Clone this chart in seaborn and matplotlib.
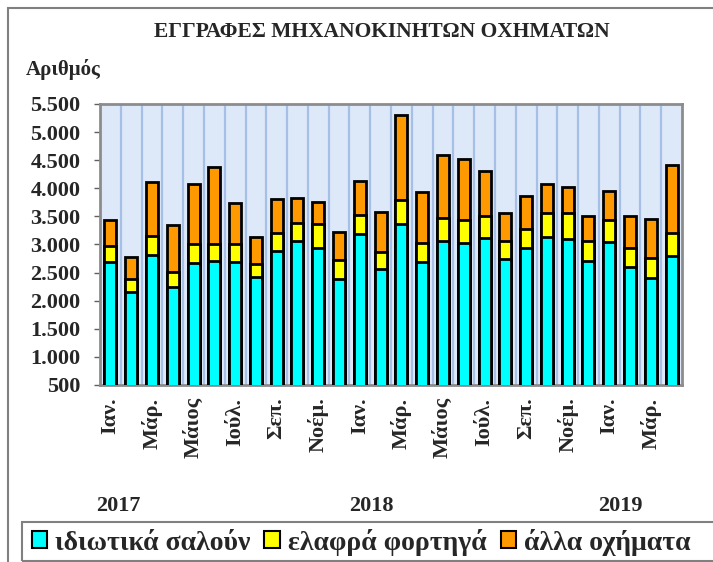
import numpy as np
import pandas as pd
import seaborn as sns
import matplotlib
matplotlib.use('Agg')
import matplotlib.pyplot as plt
from matplotlib.patches import Rectangle, Patch
from matplotlib.ticker import FuncFormatter

# Δεδομένα (εκτίμηση από το γράφημα)
months = ['Ιαν.', 'Φεβ.', 'Μάρ.', 'Απρ.', 'Μάιος', 'Ιούν.',
          'Ιούλ.', 'Αύγ.', 'Σεπ.', 'Οκτ.', 'Νοέμ.', 'Δεκ.']
periods = [f'{m} {y}' for y in (2017, 2018) for m in months] + [f'{m} 2019' for m in months[:4]]
tick_labels = (months * 3)[:28]
saloons = [2690, 2155, 2810, 2240, 2665, 2705, 2695, 2415, 2885, 3060, 2945, 2385, 3180, 2560,
           3360, 2690, 3070, 3035, 3120, 2750, 2945, 3140, 3105, 2705, 3040, 2605, 2405, 2800]
trucks = [280, 230, 350, 275, 345, 310, 315, 240, 325, 315, 415, 340, 345, 315,
          435, 340, 410, 395, 385, 320, 330, 415, 460, 365, 395, 340, 360, 400]
others = [460, 385, 960, 840, 1075, 1370, 725, 485, 595, 455, 395, 490, 605, 700,
          1515, 905, 1110, 1095, 805, 495, 595, 525, 465, 440, 515, 570, 695, 1220]
years = ['2017', '2018', '2019']
series = ['ιδιωτικά σαλούν', 'ελαφρά φορτηγά', 'άλλα οχήματα']
colors = ['#00ffff', '#ffff00', '#ff9900']

df = pd.DataFrame({'period': periods, 'sal': saloons, 'tr': trucks, 'oth': others})
df['lvl1'] = df['sal']
df['lvl2'] = df['sal'] + df['tr']
df['lvl3'] = df['lvl2'] + df['oth']

sns.set_style('white')
plt.rcParams['font.family'] = ['Liberation Serif', 'DejaVu Serif']
plt.rcParams['font.weight'] = 'bold'

fig = plt.figure(figsize=(7.13, 5.62), dpi=100)
ax = fig.add_axes([100 / 713, 1 - 385 / 562, 582 / 713, 281 / 562])
ax.set_facecolor('#dde9f8')

# στοίβαξη: από το ψηλότερο στο χαμηλότερο
for col, c in zip(['lvl3', 'lvl2', 'lvl1'], colors[::-1]):
    sns.barplot(data=df, x='period', y=col, color=c, width=0.58,
                edgecolor='black', linewidth=2, saturation=1, ax=ax, zorder=3)

ax.set_ylim(500, 5500)
ax.set_xlim(-0.5, 27.5)
ax.set_yticks(np.arange(500, 5501, 500))
ax.yaxis.set_major_formatter(FuncFormatter(lambda v, p: f'{int(v):,}'.replace(',', '.')))
ax.tick_params(axis='y', labelsize=16, length=4, width=1, color='#606060', left=True, pad=10)
for t in ax.get_yticklabels():
    t.set_fontweight('bold')
ax.set_xticks(range(0, 28, 2))
ax.set_xticklabels(tick_labels[::2], rotation=90, fontsize=16, va='top', fontweight='bold')
ax.tick_params(axis='x', length=0, pad=9)
ax.set_xticks(np.arange(0.5, 27.5, 1), minor=True)
ax.grid(which='minor', axis='x', color='#a6bfe6', linewidth=1.6, zorder=1)
ax.grid(which='major', visible=False)
ax.set_axisbelow(True)
ax.set_xlabel('')
ax.set_ylabel('')
for s in ax.spines.values():
    s.set_color('#8c8c8c')
    s.set_linewidth(2)

fig.text(382 / 713, 1 - 32 / 562, 'ΕΓΓΡΑΦΕΣ ΜΗΧΑΝΟΚΙΝΗΤΩΝ ΟΧΗΜΑΤΩΝ', ha='center', va='center',
         fontsize=15.5, fontweight='bold')
fig.text(26 / 713, 1 - 69 / 562, 'Αριθμός', ha='left', va='center', fontsize=15, fontweight='bold')
for yx, yr in zip([118, 371, 620], years):
    fig.text(yx / 713, 1 - 506 / 562, yr, ha='center', va='center', fontsize=16, fontweight='bold')

# εξωτερικό πλαίσιο και πλαίσιο υπομνήματος
fig.patches.append(Rectangle((8 / 713, -0.1), 1.2, 1.1 - 8 / 562, transform=fig.transFigure,
                             fill=False, edgecolor='#808080', linewidth=1.5))
fig.patches.append(Rectangle((22 / 713, 1 - 561 / 562), 1.0, 39 / 562, transform=fig.transFigure,
                             fill=False, edgecolor='#808080', linewidth=1.5))

handles = [Patch(facecolor=c, edgecolor='black', linewidth=1.5) for c in colors]
leg = fig.legend(handles, series, loc='center left', bbox_to_anchor=(26 / 713, 1 - 542 / 562),
                 ncol=3, frameon=False,
                 prop={'family': ['Liberation Serif', 'DejaVu Serif'], 'size': 20, 'weight': 'bold'},
                 handlelength=0.55, handleheight=0.55, handletextpad=0.3, borderaxespad=0,
                 borderpad=0.2, columnspacing=0.5)

fig.savefig('out.png', dpi=100)
